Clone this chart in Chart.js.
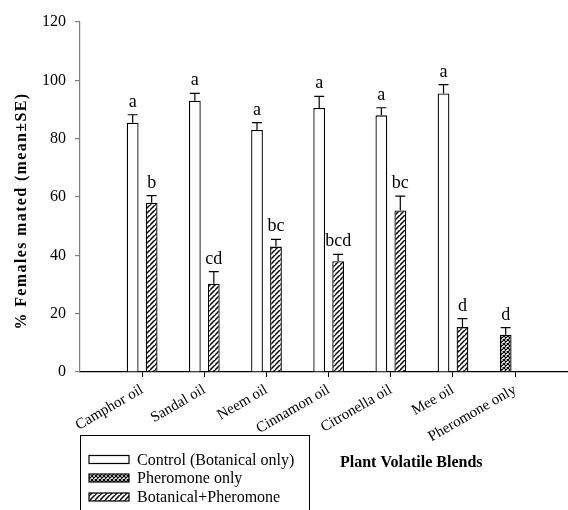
<!DOCTYPE html>
<html>
<head>
<meta charset="utf-8">
<script src="https://cdn.jsdelivr.net/npm/chart.js@4.4.1/dist/chart.umd.min.js"></script>
<style>
  html, body { margin: 0; padding: 0; background: #ffffff; overflow: hidden; }
  #wrap { position: relative; width: 568px; height: 510px; }
</style>
</head>
<body>
<div id="wrap"><canvas id="c"></canvas></div>
<script>
// ---- data ----
const categories = ['Camphor oil', 'Sandal oil', 'Neem oil', 'Cinnamon oil', 'Citronella oil', 'Mee oil', 'Pheromone only'];
const controlValues = [85.5, 93, 83, 90.5, 88, 95.5];
const controlSE = [2.7, 2.5, 2.5, 4.0, 2.6, 3.0];
const controlLetters = ['a', 'a', 'a', 'a', 'a', 'a'];
const pheromoneValues = [12.8];
const pheromoneSE = [2.4];
const pheromoneLetters = ['d'];
const blendValues = [58, 30.3, 43, 38, 55.4, 15.4];
const blendSE = [2.5, 4.1, 2.5, 2.3, 4.9, 2.9];
const blendLetters = ['b', 'cd', 'bc', 'bcd', 'bc', 'd'];
const yTicks = [0, 20, 40, 60, 80, 100, 120];
const seriesNames = ['Control (Botanical only)', 'Pheromone only', 'Botanical+Pheromone'];
const yTitle = '% Females mated (mean\u00B1SE)';
const xTitle = 'Plant Volatile Blends';

const SERIF = "'Liberation Serif', 'Times New Roman', serif";

// ---- patterns ----
function makeHatch() {
  const s = 5;
  const c = document.createElement('canvas');
  c.width = s; c.height = s;
  const g = c.getContext('2d');
  g.fillStyle = '#fff'; g.fillRect(0, 0, s, s);
  g.strokeStyle = '#000'; g.lineWidth = 1.5;
  g.beginPath();
  g.moveTo(-1, s + 1); g.lineTo(s + 1, -1);
  g.moveTo(-1 - s, s + 1); g.lineTo(1, -1);
  g.moveTo(s - 1, 2 * s + 1); g.lineTo(2 * s + 1, s - 1);
  g.stroke();
  return g.createPattern(c, 'repeat');
}
function makeCross() {
  const s = 4;
  const c = document.createElement('canvas');
  c.width = s; c.height = s;
  const g = c.getContext('2d');
  g.fillStyle = '#fff'; g.fillRect(0, 0, s, s);
  g.strokeStyle = '#000'; g.lineWidth = 1.2;
  g.beginPath();
  g.moveTo(-1, s + 1); g.lineTo(s + 1, -1);
  g.moveTo(-1, -1); g.lineTo(s + 1, s + 1);
  g.moveTo(-1 - s, s + 1); g.lineTo(1, -1);
  g.moveTo(s - 1, 2 * s + 1); g.lineTo(2 * s + 1, s - 1);
  g.moveTo(-1 - s, -1); g.lineTo(1, s + 1);
  g.moveTo(s - 1, -1 - s); g.lineTo(2 * s + 1, 1);
  g.stroke();
  return g.createPattern(c, 'repeat');
}
const hatch = makeHatch();
const cross = makeCross();
const fills = ['#ffffff', cross, hatch];

const xIndexOf = (name) => categories.indexOf(name) + 1;

const datasets = [
  {
    label: seriesNames[0],
    data: controlValues.map((v, i) => ({ x: i + 1, y: v })),
    errors: controlSE, letters: controlLetters,
    backgroundColor: fills[0], borderColor: '#000', borderWidth: 1.3, stack: 'a'
  },
  {
    label: seriesNames[1],
    data: pheromoneValues.map((v) => ({ x: xIndexOf('Pheromone only'), y: v })),
    errors: pheromoneSE, letters: pheromoneLetters,
    backgroundColor: fills[1], borderColor: '#000', borderWidth: 1.3, stack: 'a'
  },
  {
    label: seriesNames[2],
    data: blendValues.map((v, i) => ({ x: i + 1, y: v })),
    errors: blendSE, letters: blendLetters,
    backgroundColor: fills[2], borderColor: '#000', borderWidth: 1.3, stack: 'b'
  }
];

const errorPlugin = {
  id: 'errorBars',
  afterDatasetsDraw(chart) {
    const ctx = chart.ctx;
    const yScale = chart.scales.y;
    ctx.save();
    chart.data.datasets.forEach((ds, di) => {
      const meta = chart.getDatasetMeta(di);
      meta.data.forEach((bar, i) => {
        const v = ds.data[i].y;
        const se = ds.errors[i];
        const yTop = yScale.getPixelForValue(v);
        const yCap = yScale.getPixelForValue(v + se);
        ctx.strokeStyle = '#000';
        ctx.lineWidth = 1.2;
        ctx.beginPath();
        ctx.moveTo(bar.x, yTop);
        ctx.lineTo(bar.x, yCap);
        ctx.moveTo(bar.x - 5, yCap);
        ctx.lineTo(bar.x + 5, yCap);
        ctx.stroke();
        ctx.fillStyle = '#000';
        ctx.font = '18px ' + SERIF;
        ctx.textAlign = 'center';
        ctx.textBaseline = 'alphabetic';
        ctx.fillText(ds.letters[i], bar.x, yCap - 8);
      });
    });
    ctx.restore();
  }
};

const decorPlugin = {
  id: 'decor',
  afterDraw(chart) {
    const ctx = chart.ctx;
    ctx.save();
    // y title
    ctx.fillStyle = '#000';
    ctx.font = 'bold 16px ' + SERIF;
    ctx.textAlign = 'center';
    ctx.textBaseline = 'middle';
    const w = ctx.measureText(yTitle).width;
    const target = 237;
    const ls = Math.max(0, (target - w) / yTitle.length);
    ctx.letterSpacing = ls.toFixed(2) + 'px';
    ctx.translate(22, 211);
    ctx.rotate(-Math.PI / 2);
    ctx.fillText(yTitle, 0, 0);
    ctx.restore();

    ctx.save();
    ctx.fillStyle = '#000';
    ctx.font = 'bold 16px ' + SERIF;
    ctx.textAlign = 'left';
    ctx.textBaseline = 'alphabetic';
    ctx.fillText(xTitle, 340, 467);

    // legend
    ctx.strokeStyle = '#000';
    ctx.lineWidth = 1;
    ctx.strokeRect(80.5, 435.5, 229, 90);
    const rowsY = [459.5, 478, 497];
    ctx.font = '16px ' + SERIF;
    ctx.textBaseline = 'middle';
    seriesNames.forEach((name, k) => {
      const y = rowsY[k];
      ctx.fillStyle = fills[k];
      ctx.fillRect(89, y - 4, 40, 8);
      ctx.lineWidth = 1.2;
      ctx.strokeRect(89, y - 4, 40, 8);
      ctx.fillStyle = '#000';
      ctx.fillText(name, 137, y + 1);
    });
    ctx.restore();
  }
};

new Chart(document.getElementById('c'), {
  type: 'bar',
  data: { datasets },
  plugins: [errorPlugin, decorPlugin],
  options: {
    responsive: true,
    maintainAspectRatio: false,
    animation: false,
    events: [],
    layout: { padding: { top: 22, right: 0, left: 0, bottom: 0 } },
    categoryPercentage: 0.61,
    barPercentage: 0.62,
    plugins: { legend: { display: false }, tooltip: { enabled: false } },
    scales: {
      x: {
        type: 'linear',
        min: 0,
        max: 7.85,
        offset: false,
        grid: { offset: false, drawOnChartArea: false, color: '#000', tickLength: 5, lineWidth: 1 },
        border: { color: '#000', width: 1.2 },
        afterBuildTicks(scale) { scale.ticks = categories.map((c, i) => ({ value: i + 1 })); },
        afterFit(scale) { scale.height = 138; scale.paddingLeft = 0; scale.paddingRight = 0; },
        ticks: {
          autoSkip: false,
          minRotation: 30,
          maxRotation: 30,
          padding: 4,
          color: '#000',
          font: { family: SERIF, size: 15 },
          callback(value) { return categories[value - 1]; }
        }
      },
      y: {
        min: 0,
        max: 120,
        afterBuildTicks(scale) { scale.ticks = yTicks.map((v) => ({ value: v })); },
        afterFit(scale) { scale.width = 80; },
        grid: { drawOnChartArea: false, color: '#808080', tickLength: 5, lineWidth: 1.2 },
        border: { color: '#808080', width: 1.2 },
        ticks: {
          padding: 9,
          color: '#000',
          font: { family: SERIF, size: 16 }
        }
      }
    }
  }
});
</script>
</body>
</html>
